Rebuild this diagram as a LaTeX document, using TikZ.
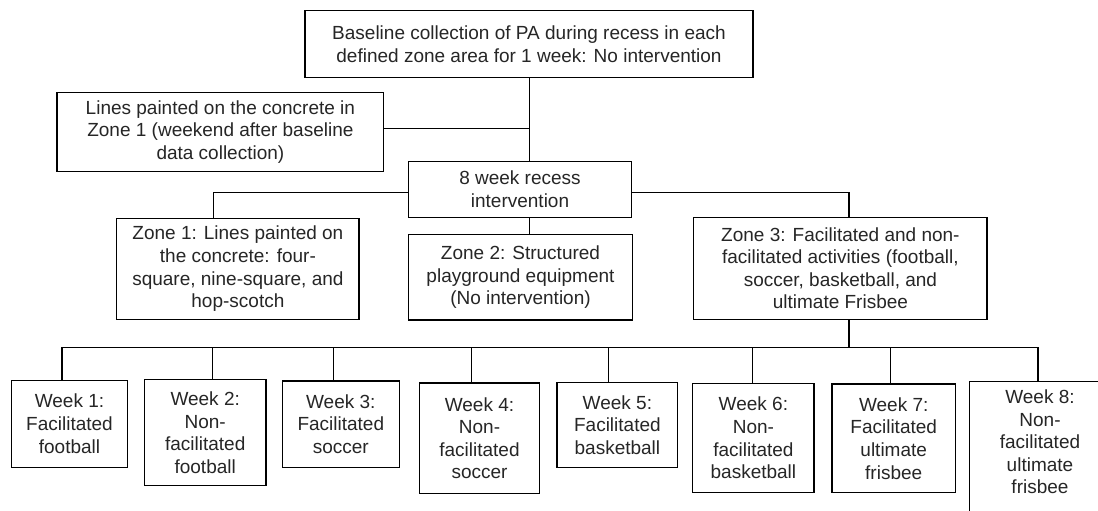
\documentclass[tikz,border=0pt]{standalone}
\usepackage{fontspec}
\setmainfont{Liberation Sans}
\usetikzlibrary{calc}
\tikzset{
  box/.style={draw=black, line width=1.2pt, align=center, inner sep=0pt,
    font=\fontsize{19}{22.6}\selectfont, text=black!85},
  conn/.style={draw=black, line width=1.2pt},
}
\begin{document}
\begin{tikzpicture}[x=1pt,y=-1pt]
\useasboundingbox (0,0) rectangle (1098,511);
\clip (0,0) rectangle (1098,511);
\fill[white] (0,0) rectangle (1098,511);

% boxes
\node[box, minimum width=448pt, minimum height=66.6pt] (base) at (529,44)
  {Baseline collection of PA during recess in each\\defined zone area for 1 week: No intervention};
\node[box, minimum width=326.7pt, minimum height=79pt] (lines) at (220.4,131.8)
  {Lines painted on the concrete in\\Zone 1 (weekend after baseline\\data collection)};
\node[box, minimum width=223.4pt, minimum height=55.6pt] (eight) at (520,189.5)
  {8 week recess\\intervention};
\node[box, minimum width=242.3pt, minimum height=101pt] (zone1) at (237.9,268.8)
  {Zone 1: Lines painted on\\the concrete: four-\\square, nine-square, and\\hop-scotch};
\node[box, minimum width=224.4pt, minimum height=85.7pt] (zone2) at (520.5,277.2)
  {Zone 2: Structured\\playground equipment\\(No intervention)};
\node[box, minimum width=293.3pt, minimum height=102pt] (zone3) at (840.4,268.3)
  {Zone 3: Facilitated and non-\\facilitated activities (football,\\soccer, basketball, and\\ultimate Frisbee};

\node[box, minimum width=115.6pt, minimum height=87pt] (w1) at (69.5,423.8)
  {Week 1:\\Facilitated\\football};
\node[box, minimum width=121.7pt, minimum height=106pt] (w2) at (205.2,432.7)
  {Week 2:\\Non-\\facilitated\\football};
\node[box, minimum width=117pt, minimum height=86.3pt] (w3) at (340.8,424.2)
  {Week 3:\\Facilitated\\soccer};
\node[box, minimum width=120.4pt, minimum height=110.3pt] (w4) at (479.5,438.2)
  {Week 4:\\Non-\\facilitated\\soccer};
\node[box, minimum width=120.7pt, minimum height=84.6pt] (w5) at (617.4,425)
  {Week 5:\\Facilitated\\basketball};
\node[box, minimum width=121.3pt, minimum height=109.4pt] (w6) at (753.4,438)
  {Week 6:\\Non-\\facilitated\\basketball};
\node[box, minimum width=123.3pt, minimum height=108.7pt] (w7) at (893.7,438.4)
  {Week 7:\\Facilitated\\ultimate\\frisbee};
% week 8: box runs past the bottom edge of the picture
\node[box, draw=none, minimum width=139.4pt, minimum height=120.6pt] (w8) at (1040,442)
  {Week 8:\\Non-\\facilitated\\ultimate\\frisbee};
\draw[conn] (w8.north west) rectangle ($(w8.south east)+(0,30)$);

% connector coordinates
\coordinate (trunk) at (529.7,0);
\coordinate (z1drop) at (213.3,192.7);
\coordinate (z3drop) at (849,192.7);
\coordinate (busL) at (62,347.3);
\coordinate (busR) at (1038,347.3);
\coordinate (busM) at (849,347.3);
\coordinate (t1) at (62,347.3);
\coordinate (t2) at (212.7,347.3);
\coordinate (t3) at (333.3,347.3);
\coordinate (t4) at (471.3,347.3);
\coordinate (t5) at (608.3,347.3);
\coordinate (t6) at (752.7,347.3);
\coordinate (t7) at (890.7,347.3);
\coordinate (t8) at (1038,347.3);

% connectors
\draw[conn] (trunk |- base.south) -- (trunk |- eight.north);
\draw[conn] (lines.east |- 0,128.3) -- (trunk |- 0,128.3);
\draw[conn] (eight.west |- z1drop) -- (z1drop) -- (z1drop |- zone1.north);
\draw[conn] (eight.east |- z3drop) -- (z3drop) -- (z3drop |- zone3.north);
\draw[conn] (trunk |- eight.south) -- (trunk |- zone2.north);
\draw[conn, line width=1.8pt] (busM |- zone3.south) -- (busM);
\draw[conn] (busL) -- (busR);
\draw[conn] (t1) -- (t1 |- w1.north);
\draw[conn] (t2) -- (t2 |- w2.north);
\draw[conn] (t3) -- (t3 |- w3.north);
\draw[conn] (t4) -- (t4 |- w4.north);
\draw[conn] (t5) -- (t5 |- w5.north);
\draw[conn] (t6) -- (t6 |- w6.north);
\draw[conn] (t7) -- (t7 |- w7.north);
\draw[conn] (t8) -- (t8 |- w8.north);
\end{tikzpicture}
\end{document}
